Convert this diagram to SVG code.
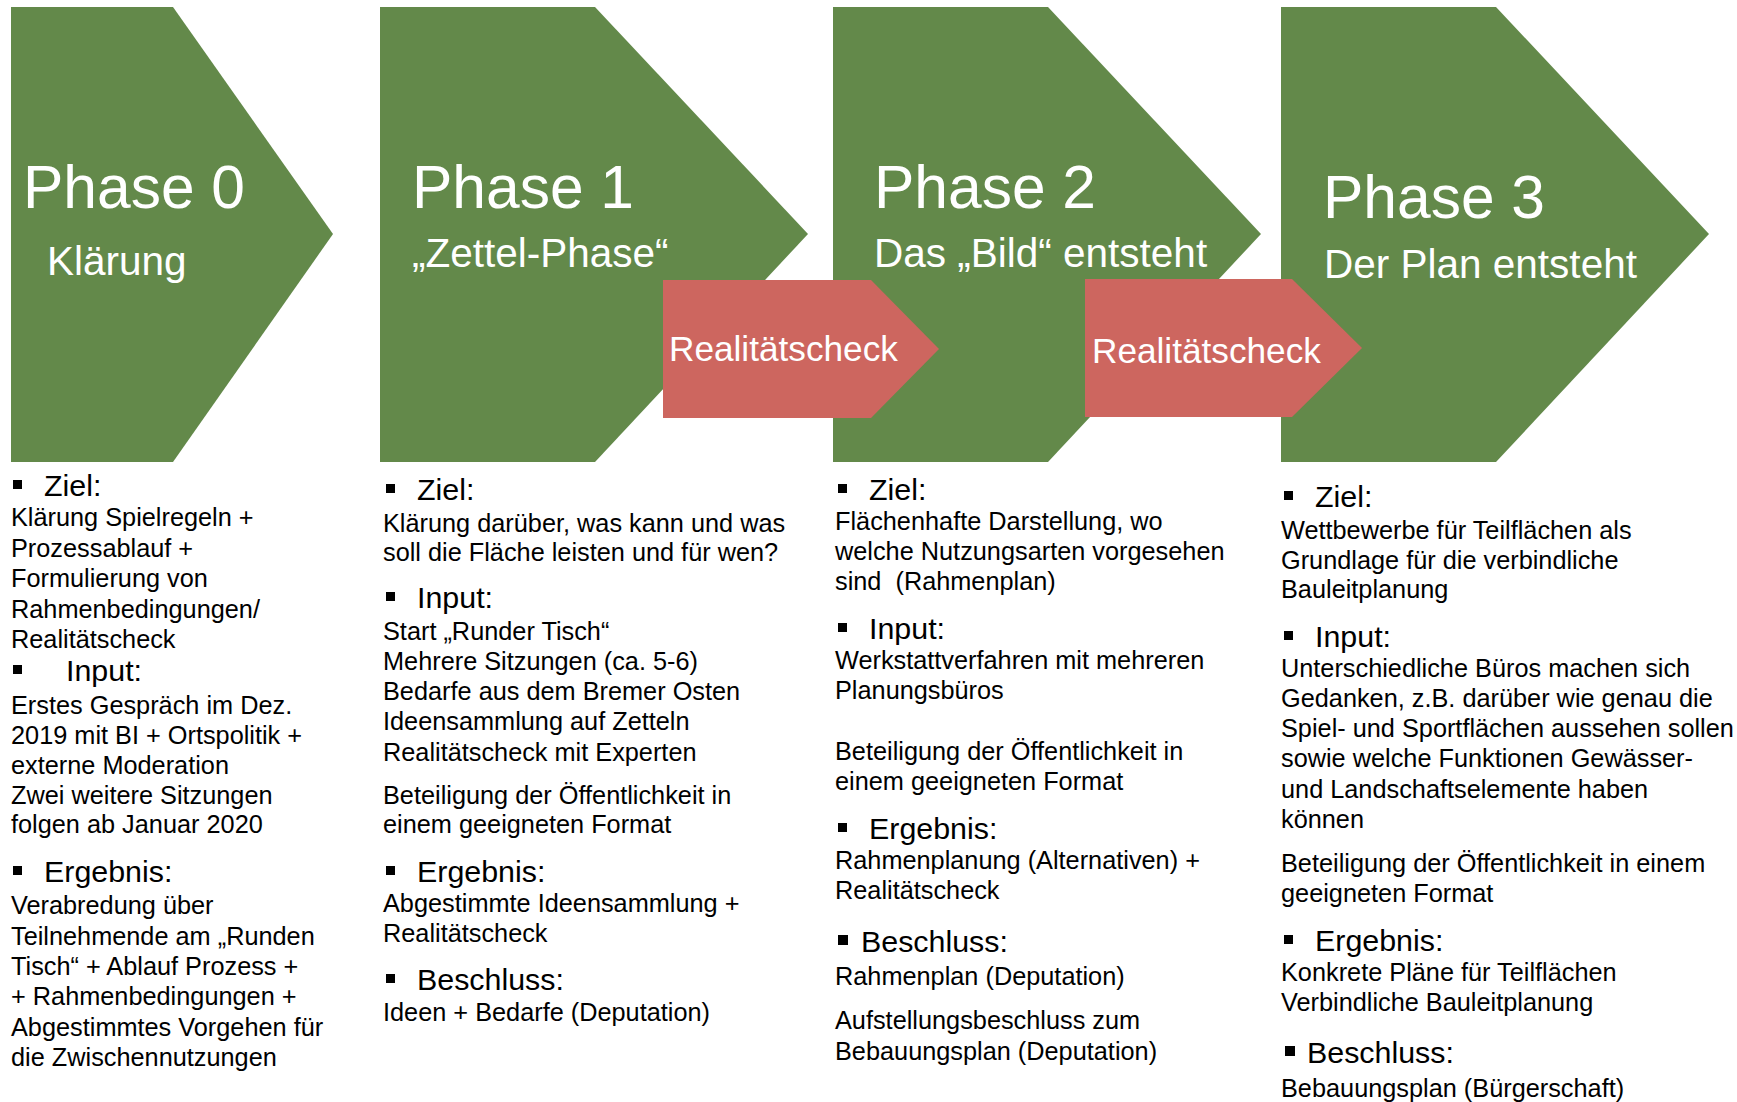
<svg xmlns="http://www.w3.org/2000/svg" width="1737" height="1102" viewBox="0 0 1737 1102">
<style>
text{font-family:"Liberation Sans",Arial,sans-serif}
.g{fill:#63894A}
.r{fill:#CD665F}
.ph{font-size:60.5px;fill:#fff}
.sub{font-size:40.5px;fill:#fff}
.chk{font-size:35.2px;fill:#fff}
.h{font-size:30.4px;fill:#000}
.b{font-size:25.3px;fill:#000}
.bl{fill:#000}
</style>
<rect width="1737" height="1102" fill="#fff"/>
<g id="phase0">
<polygon class="g" points="11,7 173,7 333,234 173,462 11,462"/>
<text class="ph" x="23" y="208">Phase 0</text>
<text class="sub" x="47" y="275">Klärung</text>
</g>
<g id="phase1">
<polygon class="g" points="380,7 595,7 808,234 595,462 380,462"/>
<text class="ph" x="412" y="208">Phase 1</text>
<text class="sub" x="412" y="267">„Zettel-Phase“</text>
</g>
<g id="phase2">
<polygon class="g" points="833,7 1048,7 1261,234 1048,462 833,462"/>
<text class="ph" x="874" y="208">Phase 2</text>
<text class="sub" x="874" y="267">Das „Bild“ entsteht</text>
</g>
<g id="phase3">
<polygon class="g" points="1281,7 1496,7 1709,234 1496,462 1281,462"/>
<text class="ph" x="1323" y="218">Phase 3</text>
<text class="sub" x="1324" y="278">Der Plan entsteht</text>
</g>
<g id="check1">
<polygon class="r" points="663,280 871,280 939,349 871,418 663,418"/>
<text class="chk" x="669" y="361">Realitätscheck</text>
</g>
<g id="check2">
<polygon class="r" points="1085,279 1292,279 1362,348 1292,417 1085,417"/>
<text class="chk" x="1092" y="363">Realitätscheck</text>
</g>
<g id="connectors"/>
<g id="details0">
<rect class="bl" x="13" y="480" width="9" height="9"/>
<text class="h" x="44" y="496">Ziel:</text>
<text class="b" x="11" y="526">Klärung Spielregeln +</text>
<text class="b" x="11" y="557">Prozessablauf +</text>
<text class="b" x="11" y="587">Formulierung von</text>
<text class="b" x="11" y="618">Rahmenbedingungen/</text>
<text class="b" x="11" y="648">Realitätscheck</text>
<rect class="bl" x="13" y="665" width="9" height="9"/>
<text class="h" x="66" y="681">Input:</text>
<text class="b" x="11" y="714">Erstes Gespräch im Dez.</text>
<text class="b" x="11" y="744">2019 mit BI + Ortspolitik +</text>
<text class="b" x="11" y="774">externe Moderation</text>
<text class="b" x="11" y="804">Zwei weitere Sitzungen</text>
<text class="b" x="11" y="833">folgen ab Januar 2020</text>
<rect class="bl" x="13" y="866" width="9" height="9"/>
<text class="h" x="44" y="882">Ergebnis:</text>
<text class="b" x="11" y="914">Verabredung über</text>
<text class="b" x="11" y="945">Teilnehmende am „Runden</text>
<text class="b" x="11" y="975">Tisch“ + Ablauf Prozess +</text>
<text class="b" x="11" y="1005">+ Rahmenbedingungen +</text>
<text class="b" x="11" y="1036">Abgestimmtes Vorgehen für</text>
<text class="b" x="11" y="1066">die Zwischennutzungen</text>
</g>
<g id="details1">
<rect class="bl" x="386" y="484" width="9" height="9"/>
<text class="h" x="417" y="500">Ziel:</text>
<text class="b" x="383" y="532">Klärung darüber, was kann und was</text>
<text class="b" x="383" y="561">soll die Fläche leisten und für wen?</text>
<rect class="bl" x="386" y="592" width="9" height="9"/>
<text class="h" x="417" y="608">Input:</text>
<text class="b" x="383" y="640">Start „Runder Tisch“</text>
<text class="b" x="383" y="670">Mehrere Sitzungen (ca. 5-6)</text>
<text class="b" x="383" y="700">Bedarfe aus dem Bremer Osten</text>
<text class="b" x="383" y="730">Ideensammlung auf Zetteln</text>
<text class="b" x="383" y="761">Realitätscheck mit Experten</text>
<text class="b" x="383" y="804">Beteiligung der Öffentlichkeit in</text>
<text class="b" x="383" y="833">einem geeigneten Format</text>
<rect class="bl" x="386" y="866" width="9" height="9"/>
<text class="h" x="417" y="882">Ergebnis:</text>
<text class="b" x="383" y="912">Abgestimmte Ideensammlung +</text>
<text class="b" x="383" y="942">Realitätscheck</text>
<rect class="bl" x="386" y="974" width="9" height="9"/>
<text class="h" x="417" y="990">Beschluss:</text>
<text class="b" x="383" y="1021">Ideen + Bedarfe (Deputation)</text>
</g>
<g id="details2">
<rect class="bl" x="838" y="484" width="9" height="9"/>
<text class="h" x="869" y="500">Ziel:</text>
<text class="b" x="835" y="530">Flächenhafte Darstellung, wo</text>
<text class="b" x="835" y="560">welche Nutzungsarten vorgesehen</text>
<text class="b" x="835" y="590" xml:space="preserve">sind  (Rahmenplan)</text>
<rect class="bl" x="838" y="623" width="9" height="9"/>
<text class="h" x="869" y="639">Input:</text>
<text class="b" x="835" y="669">Werkstattverfahren mit mehreren</text>
<text class="b" x="835" y="699">Planungsbüros</text>
<text class="b" x="835" y="760">Beteiligung der Öffentlichkeit in</text>
<text class="b" x="835" y="790">einem geeigneten Format</text>
<rect class="bl" x="838" y="823" width="9" height="9"/>
<text class="h" x="869" y="839">Ergebnis:</text>
<text class="b" x="835" y="869">Rahmenplanung (Alternativen) +</text>
<text class="b" x="835" y="899">Realitätscheck</text>
<rect class="bl" x="838" y="935" width="10" height="10"/>
<text class="h" x="861" y="952">Beschluss:</text>
<text class="b" x="835" y="985">Rahmenplan (Deputation)</text>
<text class="b" x="835" y="1029">Aufstellungsbeschluss zum</text>
<text class="b" x="835" y="1060">Bebauungsplan (Deputation)</text>
</g>
<g id="details3">
<rect class="bl" x="1284" y="491" width="9" height="9"/>
<text class="h" x="1315" y="507">Ziel:</text>
<text class="b" x="1281" y="539">Wettbewerbe für Teilflächen als</text>
<text class="b" x="1281" y="569">Grundlage für die verbindliche</text>
<text class="b" x="1281" y="598">Bauleitplanung</text>
<rect class="bl" x="1284" y="631" width="9" height="9"/>
<text class="h" x="1315" y="647">Input:</text>
<text class="b" x="1281" y="677">Unterschiedliche Büros machen sich</text>
<text class="b" x="1281" y="707">Gedanken, z.B. darüber wie genau die</text>
<text class="b" x="1281" y="737">Spiel- und Sportflächen aussehen sollen</text>
<text class="b" x="1281" y="767">sowie welche Funktionen Gewässer-</text>
<text class="b" x="1281" y="798">und Landschaftselemente haben</text>
<text class="b" x="1281" y="828">können</text>
<text class="b" x="1281" y="872">Beteiligung der Öffentlichkeit in einem</text>
<text class="b" x="1281" y="902">geeigneten Format</text>
<rect class="bl" x="1284" y="935" width="9" height="9"/>
<text class="h" x="1315" y="951">Ergebnis:</text>
<text class="b" x="1281" y="981">Konkrete Pläne für Teilflächen</text>
<text class="b" x="1281" y="1011">Verbindliche Bauleitplanung</text>
<rect class="bl" x="1285" y="1046" width="10" height="10"/>
<text class="h" x="1307" y="1063">Beschluss:</text>
<text class="b" x="1281" y="1097">Bebauungsplan (Bürgerschaft)</text>
</g>
</svg>
